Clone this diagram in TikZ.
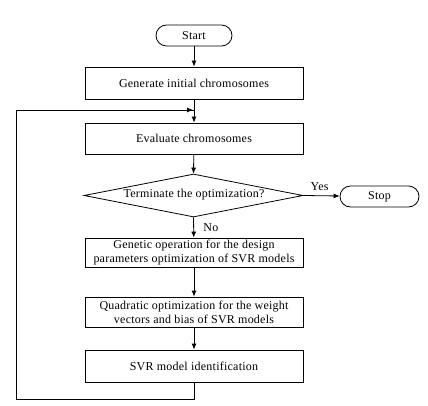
\documentclass[tikz,border=0pt]{standalone}
\usepackage{fontspec}
\setmainfont[LetterSpace=2]{Liberation Serif}
\usetikzlibrary{shapes.geometric,arrows.meta}
\begin{document}
\begin{tikzpicture}[x=1pt,y=-1pt,
  every node/.style={font=\fontsize{12}{14}\selectfont},
  box/.style={draw,line width=0.8pt,minimum width=218pt,align=center,inner sep=2pt},
  term/.style={draw,line width=0.8pt,rounded corners=10.5pt,minimum height=21pt},
  dec/.style={draw,line width=0.8pt,diamond,aspect=5.1,minimum width=219pt,minimum height=43pt,inner sep=0pt},
  arr/.style={line width=0.8pt,-{Latex[length=6pt,width=5pt]}},
  ln/.style={line width=0.8pt}]
\useasboundingbox (0,0) rectangle (428,405);
\node[term,minimum width=76pt] (start) at (194,35.5) {Start};
\node[box,minimum height=32pt] (gen) at (194,83) {Generate initial chromosomes};
\node[box,minimum height=31pt] (eval) at (194,138.5) {Evaluate chromosomes};
\node[dec] (term) at (193.5,195.5) {};
\node at (194,195) {Terminate the optimization?};
\node[term,minimum width=79pt] (stop) at (379.5,196.5) {Stop};
\node[box,minimum height=29pt] (gop) at (194,252.5) {Genetic operation for the design\\parameters optimization of SVR models};
\node[box,minimum height=30pt] (quad) at (194,312) {Quadratic optimization for the weight\\vectors and bias of SVR models};
\node[box,minimum height=32pt] (svr) at (194,366) {SVR model identification};
\coordinate (b1) at (194,399);
\coordinate (b2) at (16,399);
\coordinate (b3) at (16,110);
\coordinate (b4) at (194,110);
\draw[arr] (start) -- (gen);
\draw[arr] (gen) -- (eval);
\draw[arr] (eval) -- (term.north);
\draw[arr] (term.east) -- node[above,pos=0.45,yshift=1pt] {Yes} (stop);
\draw[arr] (term.south) -- node[right,xshift=6pt] {No} (gop);
\draw[arr] (gop) -- (quad);
\draw[arr] (quad) -- (svr);
\draw[ln] (svr.south) -- (b1) -- (b2) -- (b3) -- (b4);
\draw[arr] (b3) -- ([xshift=-1pt]b4);
\end{tikzpicture}
\end{document}
